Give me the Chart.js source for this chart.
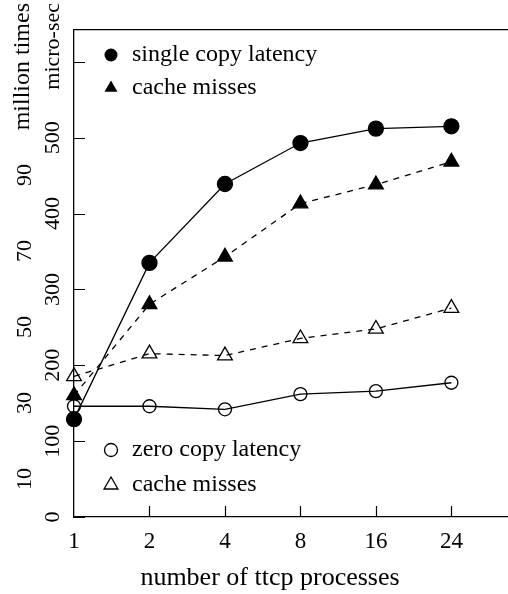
<!DOCTYPE html>
<html>
<head>
<meta charset="utf-8">
<script src="https://cdn.jsdelivr.net/npm/chart.js@4.4.0/dist/chart.umd.min.js"></script>
<style>
  html, body { margin: 0; padding: 0; background: #fff; }
  #wrap { width: 508px; height: 594px; position: relative; }
</style>
</head>
<body>
<div id="wrap"><canvas id="ttcpChart"></canvas></div>
<script>
// values
const processes = ['1', '2', '4', '8', '16', '24'];
const singleCopyLatency = [129, 335, 439, 493, 512, 515];     // micro-sec
const singleCopyMisses = [32, 56, 68.5, 82.5, 87.5, 93.5];    // million times
const zeroCopyLatency = [146, 146, 142, 162, 166, 177];       // micro-sec
const zeroCopyMisses = [37, 43, 42.5, 47, 49.5, 55];          // million times
const latencyTicks = [0, 100, 200, 300, 400, 500, 600];
const missTicks = [10, 30, 50, 70, 90];

const SERIF = "'Liberation Serif', 'Times New Roman', serif";
Chart.defaults.font.family = SERIF;
Chart.defaults.color = '#000';

function toPoints(values) {
    return values.map((v, i) => ({ x: i, y: v }));
}

function drawMarker(ctx, style, x, y, r, filled) {
    ctx.beginPath();
    if (style === 'circle') {
        ctx.arc(x, y, r, 0, Math.PI * 2);
    } else {
        ctx.moveTo(x, y - r);
        ctx.lineTo(x + r * 0.866, y + r / 2);
        ctx.lineTo(x - r * 0.866, y + r / 2);
        ctx.closePath();
    }
    if (filled) ctx.fill(); else ctx.stroke();
}

// inward tick marks, axis titles and the two legends are drawn by hand
const overlay = {
    id: 'overlay',
    afterDraw(chart) {
        const ctx = chart.ctx;
        const area = chart.chartArea;
        const xs = chart.scales.x;
        const ys = chart.scales.y;
        ctx.save();
        ctx.fillStyle = '#000';
        ctx.strokeStyle = '#000';
        ctx.lineWidth = 1.2;

        ctx.beginPath();
        latencyTicks.forEach(v => {
            const py = Math.round(ys.getPixelForValue(v)) + 0.5;
            ctx.moveTo(area.left, py);
            ctx.lineTo(area.left + 11, py);
        });
        processes.forEach((p, i) => {
            if (i === 0) return;
            const px = Math.round(xs.getPixelForValue(i)) + 0.5;
            ctx.moveTo(px, area.bottom);
            ctx.lineTo(px, area.bottom - 11);
        });
        ctx.stroke();

        ctx.lineWidth = 1.3;
        [['million times', 23, 24], ['micro-sec', 53, 22]].forEach(([text, x, size]) => {
            ctx.save();
            ctx.font = size + 'px ' + SERIF;
            ctx.translate(x, 3);
            ctx.rotate(-Math.PI / 2);
            ctx.textAlign = 'right';
            ctx.textBaseline = 'middle';
            ctx.fillText(text, 0, 0);
            ctx.restore();
        });

        ctx.font = '26px ' + SERIF;
        ctx.textAlign = 'center';
        ctx.textBaseline = 'alphabetic';
        ctx.fillText('number of ttcp processes', 270, 585);

        ctx.font = '24px ' + SERIF;
        ctx.textAlign = 'left';
        ctx.textBaseline = 'middle';
        const legend = [
            ['circle', true, 'single copy latency', 55, 6.5],
            ['triangle', true, 'cache misses', 88, 7.5],
            ['circle', false, 'zero copy latency', 450, 6.5],
            ['triangle', false, 'cache misses', 485, 8]
        ];
        legend.forEach(([style, filled, text, y, r]) => {
            drawMarker(ctx, style, 111, y, r, filled);
            ctx.fillText(text, 132, y);
        });
        ctx.restore();
    }
};

const ctx = document.getElementById('ttcpChart').getContext('2d');
const ttcpChart = new Chart(ctx, {
    type: 'line',
    data: {
        datasets: [{
            label: 'single copy latency',
            data: toPoints(singleCopyLatency),
            yAxisID: 'y',
            borderColor: '#000',
            borderWidth: 1.3,
            pointStyle: 'circle',
            pointRadius: 7.5,
            pointBackgroundColor: '#000',
            pointBorderColor: '#000',
            clip: false
        }, {
            label: 'cache misses',
            data: toPoints(singleCopyMisses),
            yAxisID: 'y2',
            borderColor: '#000',
            borderWidth: 1.3,
            borderDash: [6, 6],
            pointStyle: 'triangle',
            pointRadius: 8.5,
            pointBackgroundColor: '#000',
            pointBorderColor: '#000',
            clip: false
        }, {
            label: 'zero copy latency',
            data: toPoints(zeroCopyLatency),
            yAxisID: 'y',
            borderColor: '#000',
            borderWidth: 1.3,
            pointStyle: 'circle',
            pointRadius: 6.5,
            pointBorderWidth: 1.3,
            pointBackgroundColor: 'rgba(0,0,0,0)',
            pointBorderColor: '#000',
            clip: false
        }, {
            label: 'cache misses',
            data: toPoints(zeroCopyMisses),
            yAxisID: 'y2',
            borderColor: '#000',
            borderWidth: 1.3,
            borderDash: [6, 6],
            pointStyle: 'triangle',
            pointRadius: 8.5,
            pointBorderWidth: 1.3,
            pointBackgroundColor: 'rgba(0,0,0,0)',
            pointBorderColor: '#000',
            clip: false
        }]
    },
    options: {
        responsive: true,
        maintainAspectRatio: false,
        animation: false,
        devicePixelRatio: 1,
        layout: { autoPadding: false, padding: { top: 30, left: 0, right: 0, bottom: 0 } },
        plugins: {
            legend: { display: false },
            tooltip: { enabled: false }
        },
        scales: {
            x: {
                type: 'linear',
                position: 'bottom',
                min: 0,
                max: 5.75,
                afterBuildTicks: s => { s.ticks = processes.map((p, i) => ({ value: i })); },
                afterFit: s => { s.height = 77; s.paddingLeft = 0; s.paddingRight = 0; },
                ticks: {
                    font: { size: 23 },
                    padding: 3,
                    callback: v => processes[v]
                },
                grid: { display: false },
                border: { color: '#000', width: 1.3 }
            },
            xTop: {
                type: 'linear',
                position: 'top',
                min: 0,
                max: 1,
                afterFit: s => { s.height = 0; s.paddingLeft = 0; s.paddingRight = 0; },
                ticks: { display: false },
                grid: { display: false, drawTicks: false },
                border: { color: '#000', width: 1.3 }
            },
            y: {
                type: 'linear',
                position: 'left',
                weight: 0,
                min: 0,
                max: 642,
                afterBuildTicks: s => { s.ticks = latencyTicks.map(v => ({ value: v })); },
                afterFit: s => { s.width = 30; },
                ticks: {
                    font: { size: 22 },
                    minRotation: 90,
                    maxRotation: 90,
                    crossAlign: 'center',
                    padding: 4.5,
                    callback: v => (v === 600 ? '' : String(v))
                },
                grid: { display: false, drawTicks: false },
                border: { color: '#000', width: 1.3 }
            },
            y2: {
                type: 'linear',
                position: 'left',
                weight: 1,
                min: 0,
                max: 128.2,
                afterBuildTicks: s => { s.ticks = missTicks.map(v => ({ value: v })); },
                afterFit: s => { s.width = 44; },
                ticks: {
                    font: { size: 22 },
                    minRotation: 90,
                    maxRotation: 90,
                    crossAlign: 'center',
                    padding: 8
                },
                grid: { display: false, drawTicks: false },
                border: { display: false }
            }
        }
    },
    plugins: [overlay]
});
</script>
</body>
</html>
